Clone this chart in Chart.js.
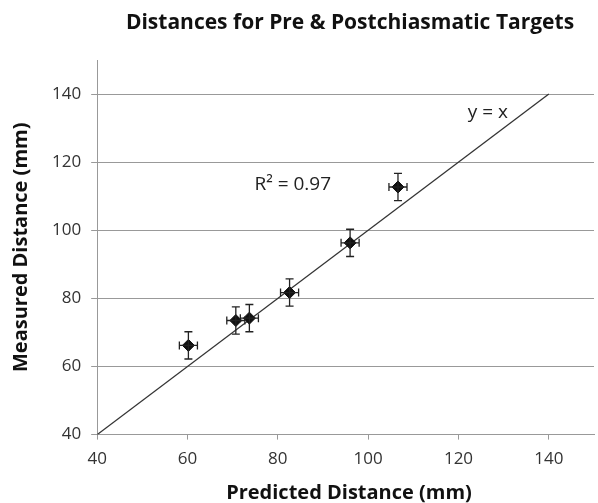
<!DOCTYPE html>
<html>
<head>
<meta charset="utf-8">
<script src="https://cdn.jsdelivr.net/npm/chart.js@4.4.1/dist/chart.umd.min.js"></script>
<style>
  html, body { margin: 0; padding: 0; background: #fff; overflow: hidden; }
  #wrap { width: 601px; height: 503px; position: relative; }
</style>
</head>
<body>
<div id="wrap"><canvas id="myChart"></canvas></div>
<script>
// data
const predicted = [60.2, 70.7, 73.7, 82.6, 96.0, 106.6];
const measured = [66.2, 73.5, 74.2, 81.7, 96.3, 112.7];
const predictedErr = [2, 2, 2, 2, 2, 2];
const measuredErr = [4, 4, 4, 4, 4, 4];
const identityLine = [40, 140];
const tickValues = [40, 60, 80, 100, 120, 140];

const fontName = "'Open Sans', sans-serif";

const points = predicted.map((x, i) => ({ x: x, y: measured[i] }));
const lineData = identityLine.map(v => ({ x: v, y: v }));

// error bars drawn through the scales
const errorBars = {
    id: 'errorBars',
    afterDatasetsDraw(chart) {
        const ctx = chart.ctx;
        const xs = chart.scales.x, ys = chart.scales.y;
        ctx.save();
        ctx.strokeStyle = '#222';
        ctx.lineWidth = 1.3;
        predicted.forEach((x, i) => {
            const y = measured[i];
            const px = xs.getPixelForValue(x), py = ys.getPixelForValue(y);
            const x0 = xs.getPixelForValue(x - predictedErr[i]);
            const x1 = xs.getPixelForValue(x + predictedErr[i]);
            const y0 = ys.getPixelForValue(y - measuredErr[i]);
            const y1 = ys.getPixelForValue(y + measuredErr[i]);
            ctx.beginPath();
            ctx.moveTo(x0, py); ctx.lineTo(x1, py);
            ctx.moveTo(x0, py - 4); ctx.lineTo(x0, py + 4);
            ctx.moveTo(x1, py - 4); ctx.lineTo(x1, py + 4);
            ctx.moveTo(px, y0); ctx.lineTo(px, y1);
            ctx.moveTo(px - 4, y0); ctx.lineTo(px + 4, y0);
            ctx.moveTo(px - 4, y1); ctx.lineTo(px + 4, y1);
            ctx.stroke();
        });
        ctx.restore();
    }
};

// titles and text labels
const labels = {
    id: 'labels',
    afterDraw(chart) {
        const ctx = chart.ctx;
        const xs = chart.scales.x, ys = chart.scales.y;
        ctx.save();
        ctx.fillStyle = '#111';
        ctx.textAlign = 'center';
        ctx.textBaseline = 'alphabetic';
        ctx.font = "bold 21px " + fontName;
        ctx.fillText('Distances for Pre & Postchiasmatic Targets', 350, 29);
        ctx.font = "bold 20px " + fontName;
        ctx.fillText('Predicted Distance (mm)', 349, 499);
        ctx.fillStyle = '#222';
        ctx.textBaseline = 'middle';
        ctx.font = "19px " + fontName;
        ctx.fillText('y = x', xs.getPixelForValue(126.5), ys.getPixelForValue(134.6));
        ctx.fillText('R\u00B2 = 0.97', xs.getPixelForValue(83.3), ys.getPixelForValue(113.4));
        ctx.restore();
    }
};

const data = {
    datasets: [{
        type: 'scatter',
        data: points,
        pointStyle: 'rectRot',
        pointRadius: 6,
        pointHoverRadius: 6,
        backgroundColor: '#111',
        borderColor: '#111',
        order: 0
    },
    {
        type: 'scatter',
        data: lineData,
        showLine: true,
        pointRadius: 0,
        borderColor: '#333',
        borderWidth: 1.3,
        order: 1
    }]
};

const config = {
    type: 'scatter',
    data: data,
    options: {
        responsive: true,
        maintainAspectRatio: false,
        animation: false,
        layout: {
            padding: { left: 9, right: 0, top: 60, bottom: 25 }
        },
        plugins: {
            legend: { display: false },
            tooltip: { enabled: false }
        },
        scales: {
            x: {
                type: 'linear',
                min: 40,
                max: 150,
                afterBuildTicks: s => { s.ticks = tickValues.map(v => ({ value: v })); },
                ticks: { color: '#333', font: { family: fontName, size: 17 }, padding: 9 },
                grid: { drawOnChartArea: false, drawTicks: true, tickLength: 5, color: '#999' },
                border: { color: '#999' }
            },
            y: {
                type: 'linear',
                min: 40,
                max: 150,
                afterBuildTicks: s => { s.ticks = tickValues.map(v => ({ value: v })); },
                ticks: { color: '#333', font: { family: fontName, size: 17 }, padding: 10 },
                grid: { color: '#999', tickLength: 6 },
                border: { color: '#999' },
                title: {
                    display: true,
                    text: 'Measured Distance (mm)',
                    color: '#111',
                    font: { family: fontName, size: 20, weight: 'bold' },
                    padding: { top: 0, bottom: 9 }
                }
            }
        }
    },
    plugins: [errorBars, labels]
};

const myChart = new Chart(document.getElementById('myChart'), config);
</script>
</body>
</html>
